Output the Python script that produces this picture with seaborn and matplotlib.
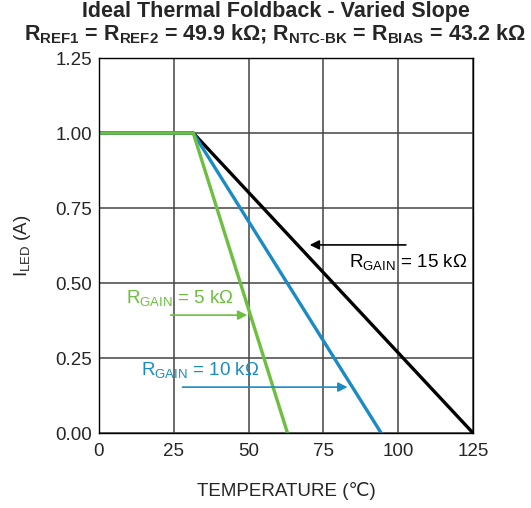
import numpy as np
import pandas as pd
import matplotlib
matplotlib.use("Agg")
import matplotlib.pyplot as plt
import seaborn as sns

# data
series = ["5 kΩ", "10 kΩ", "15 kΩ"]
temp_pts = [[0, 31.5, 63.0], [0, 31.5, 94.3], [0, 31.5, 125]]
iled_pts = [[1.0, 1.0, 0.0], [1.0, 1.0, 0.0], [1.0, 1.0, 0.0]]
colors = ["#6cbf3f", "#1a8bc5", "#000000"]
x_ticks = [0, 25, 50, 75, 100, 125]
y_ticks = [0.00, 0.25, 0.50, 0.75, 1.00, 1.25]

rows = []
for name, xs, ys in zip(series, temp_pts, iled_pts):
    for x, y in zip(xs, ys):
        rows.append({"series": name, "TEMP": x, "ILED": y})
df = pd.DataFrame(rows)

sns.set_style("white")
plt.rcParams["font.family"] = ["Liberation Sans", "DejaVu Sans"]
plt.rcParams["mathtext.fontset"] = "custom"
plt.rcParams["mathtext.rm"] = "Liberation Sans"
plt.rcParams["mathtext.bf"] = "Liberation Sans:bold"
plt.rcParams["mathtext.default"] = "regular"

fig = plt.figure(figsize=(5.31, 5.08), dpi=100)
ax = fig.add_axes([0.1864, 0.1476, 0.7044, 0.7382])

# draw black first so green/blue sit on top at the knee
order = ["15 kΩ", "10 kΩ", "5 kΩ"]
sns.lineplot(data=df, x="TEMP", y="ILED", hue="series", hue_order=order,
             palette=dict(zip(series, colors)), sort=False, estimator=None,
             linewidth=2.4, legend=False, ax=ax)

ax.set_xlim(0, 125)
ax.set_ylim(0, 1.25)
ax.set_xticks(x_ticks)
ax.set_yticks(y_ticks)
ax.set_yticklabels([f"{v:.2f}" for v in y_ticks])
ax.tick_params(length=0, labelsize=13.5)
ax.tick_params(axis="x", pad=7)
ax.tick_params(axis="y", pad=5)
ax.grid(True, color="#444444", linewidth=1.1)
for s in ax.spines.values():
    s.set_color("black")
    s.set_linewidth(1.0)

ax.set_xlabel("TEMPERATURE (℃)", fontsize=13.5, labelpad=16)
ax.set_ylabel(r"$\mathregular{I_{LED}}$ (A)", fontsize=13.5, labelpad=16)

fig.text(0.519, 0.998, "Ideal Thermal Foldback - Varied Slope", ha="center", va="top",
         fontsize=15.5, fontweight="bold")
fig.text(0.519, 0.955,
         r"$\mathbf{R_{REF1}}$ = $\mathbf{R_{REF2}}$ = 49.9 kΩ; "
         r"$\mathbf{R_{NTC\text{-}BK}}$ = $\mathbf{R_{BIAS}}$ = 43.2 kΩ",
         ha="center", va="top", fontsize=15.5, fontweight="bold")

# annotations
ax.annotate("", xy=(69.5, 0.627), xytext=(103.5, 0.627),
            arrowprops=dict(arrowstyle="-|>", color="black", lw=1.2, mutation_scale=14))
ax.text(83.5, 0.57, r"$\mathregular{R_{GAIN}}$ = 15 kΩ", fontsize=13.5, va="center", color="black")

ax.annotate("", xy=(50.5, 0.393), xytext=(23, 0.393),
            arrowprops=dict(arrowstyle="-|>", color=colors[0], lw=1.2, mutation_scale=14))
ax.text(9, 0.45, r"$\mathregular{R_{GAIN}}$ = 5 kΩ", fontsize=13.5, va="center", color=colors[0])

ax.annotate("", xy=(84, 0.153), xytext=(27, 0.153),
            arrowprops=dict(arrowstyle="-|>", color=colors[1], lw=1.2, mutation_scale=14))
ax.text(14, 0.21, r"$\mathregular{R_{GAIN}}$ = 10 kΩ", fontsize=13.5, va="center", color=colors[1])

fig.savefig("out.png", dpi=100)
